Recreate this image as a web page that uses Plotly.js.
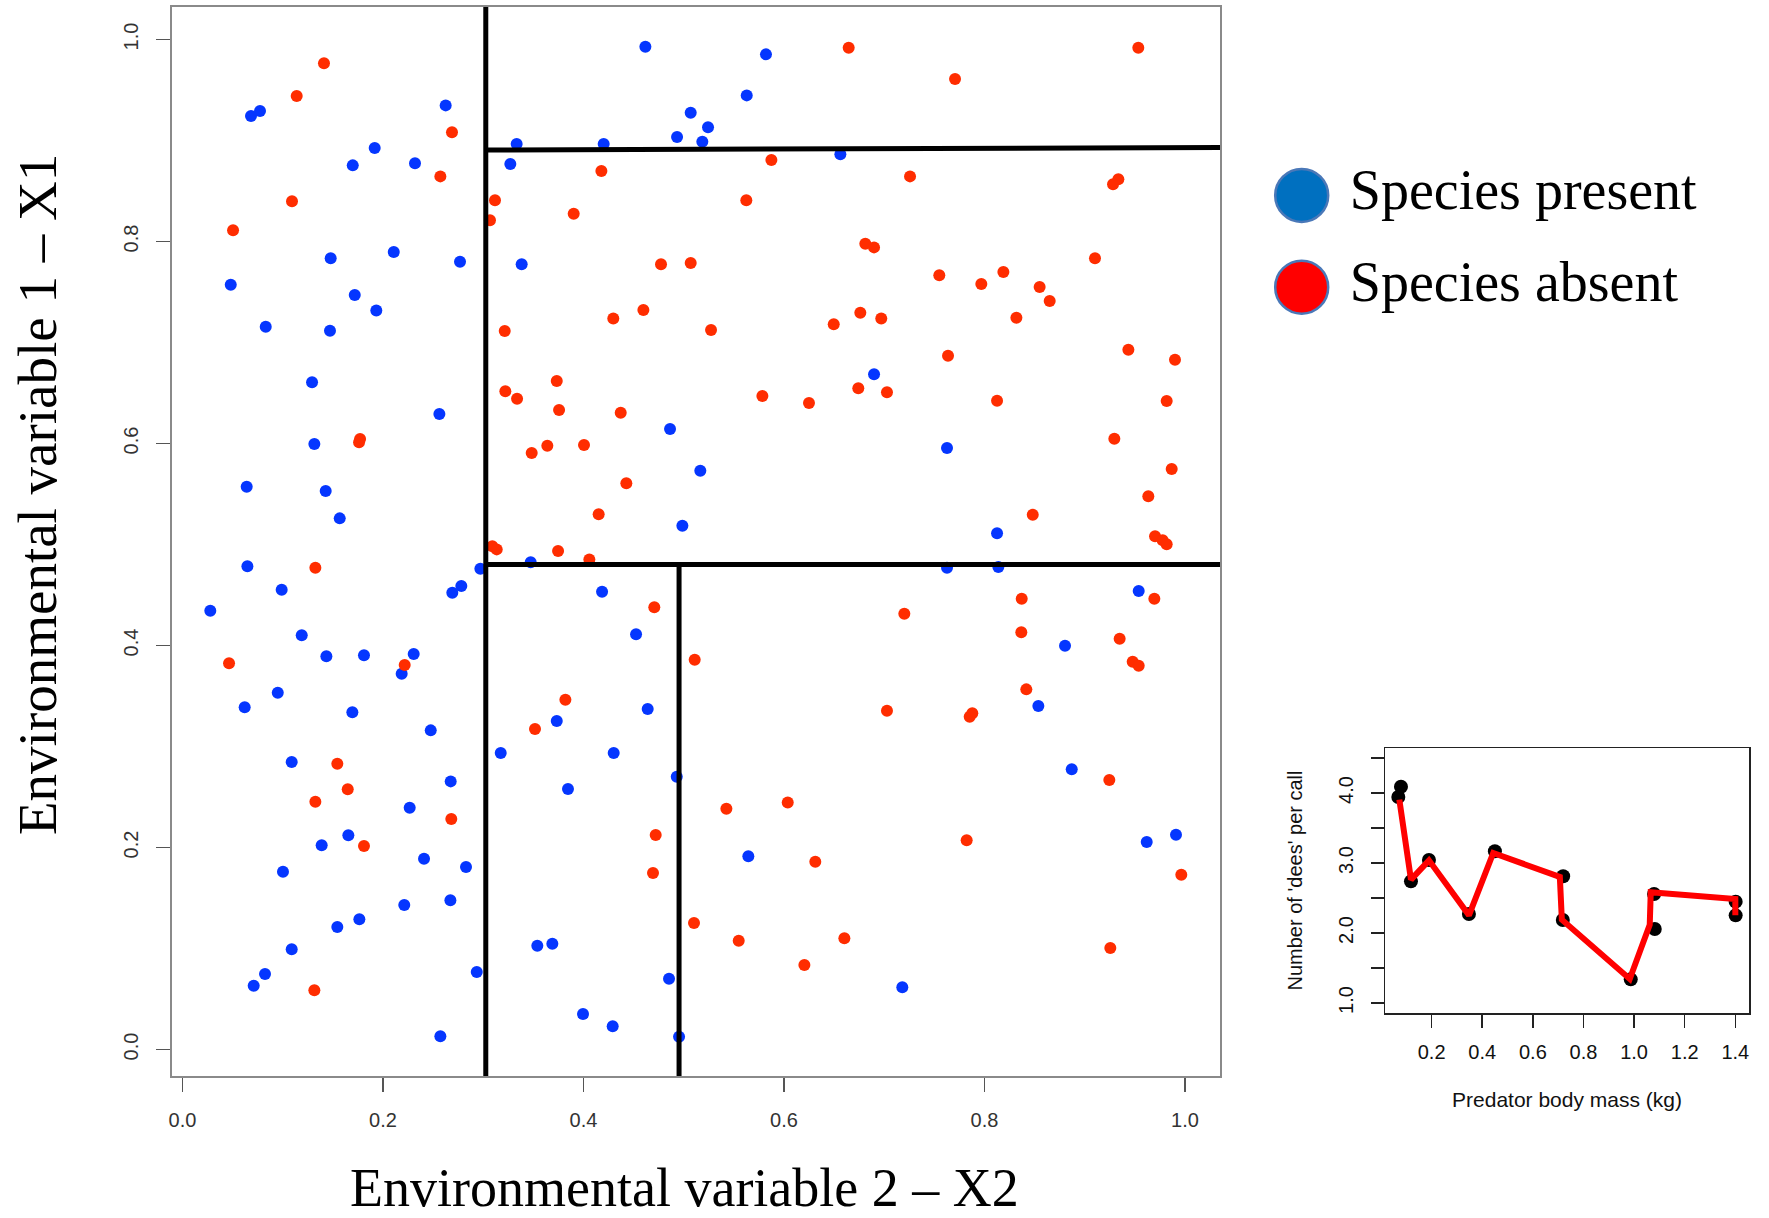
<!DOCTYPE html>
<html>
<head>
<meta charset="utf-8">
<script src="https://cdn.plot.ly/plotly-3.0.1.min.js"></script>
<style>html,body{margin:0;padding:0;background:#fff}#chart{width:1769px;height:1218px}</style>
</head>
<body>
<div id="chart"></div>
<script>
// ---------- Main scatter data (X2 = horizontal, X1 = vertical) ----------
const presentX = [0.0683,0.0773,0.2625,0.1917,0.1698,0.2319,0.3333,0.327,0.1478,0.2107,0.2768,0.3383,0.0481,0.1718,0.1933,0.083,0.1471,
  0.4617,0.582,0.5628,0.5069,0.5242,0.4933,0.5185,0.4201,0.6562,0.6898,
  0.1292,0.2562,0.1315,0.064,0.1428,0.1568,0.0647,0.0989,0.0277,0.2971,0.2781,0.2691,0.1189,0.1435,0.181,0.2306,0.2186,0.095,0.062,0.1694,
  0.4863,0.5165,0.4986,0.3473,0.4185,0.4524,0.464,0.3733,
  0.7626,0.8125,0.7626,0.8138,0.9538,0.8803,0.8537,
  0.2476,0.3174,0.1089,0.2675,0.2266,0.1654,0.1388,0.2409,0.2828,0.1002,0.2212,0.2672,0.1764,0.1544,0.1089,0.0823,0.071,0.2935,0.2572,
  0.4301,0.493,0.3845,0.5644,0.3539,0.3689,0.4853,0.3995,0.4291,0.4953,
  0.887,0.9618,0.991,0.718];
const presentY = [0.9243,0.9292,0.9348,0.8926,0.8754,0.8774,0.8965,0.8767,0.7834,0.7896,0.78,0.7774,0.7572,0.747,0.7318,0.7157,0.7117,
  0.9929,0.9853,0.9447,0.9275,0.9131,0.9035,0.8988,0.8965,0.8863,0.6685,
  0.6606,0.6292,0.5995,0.5572,0.553,0.5259,0.4784,0.4553,0.4345,0.476,0.4589,0.4523,0.4101,0.3893,0.3903,0.3916,0.3721,0.3533,0.3388,0.3339,
  0.6144,0.5731,0.5186,0.4824,0.4533,0.4111,0.3371,0.3252,
  0.5955,0.5111,0.477,0.4777,0.454,0.3998,0.3401,
  0.316,0.2936,0.2847,0.2655,0.2394,0.2121,0.2022,0.1889,0.1807,0.176,0.1431,0.1477,0.1289,0.1213,0.0992,0.0748,0.0632,0.0767,0.0131,
  0.2936,0.2701,0.2579,0.1913,0.1028,0.1048,0.0701,0.0351,0.023,0.0127,
  0.2774,0.2054,0.2127,0.0616];

const absentX = [0.1411,0.1139,0.2688,0.2572,0.3117,0.3067,0.1092,0.0504,0.3214,
  0.6645,0.5874,0.4178,0.5624,0.3902,0.6811,0.6898,0.4773,0.5069,0.4597,0.4297,0.5272,0.6496,0.6761,0.697,
  0.9534,0.7706,0.7257,0.9335,0.9282,0.9102,0.7549,0.8188,0.7968,0.855,0.865,0.8318,0.7636,0.9435,0.99,
  0.1771,0.1761,0.1325,0.322,0.3337,0.309,0.3134,0.0464,0.2216,
  0.3733,0.3756,0.4371,0.3483,0.3639,0.4005,0.4427,0.4151,0.5784,0.6249,0.6741,0.3746,0.4058,0.4706,0.5109,0.3819,0.3516,
  0.7027,0.8125,0.9817,0.9295,0.9867,0.9634,0.8481,0.9701,0.9777,0.9817,0.8371,0.9694,0.72,0.8367,0.9348,0.9478,0.9538,0.8417,0.7027,0.7852,0.7878,
  0.1544,0.1648,0.1325,0.2681,0.181,0.1315,
  0.5425,0.6037,0.472,0.6312,0.4693,0.5102,0.5548,0.6602,0.6203,
  0.9245,0.7822,0.9963,0.9255];
const absentY = [0.9764,0.9441,0.9081,0.8645,0.8408,0.821,0.8398,0.8111,0.7114,
  0.9919,0.8807,0.8698,0.8408,0.8275,0.7978,0.7942,0.7774,0.7787,0.7322,0.7239,0.7124,0.718,0.7295,0.7239,
  0.9919,0.9609,0.8645,0.8616,0.8566,0.7834,0.7665,0.7698,0.7579,0.755,0.7411,0.7246,0.6869,0.6929,0.683,
  0.6045,0.6012,0.477,0.6517,0.6444,0.4982,0.4952,0.3824,0.3807,
  0.6619,0.6332,0.6305,0.5906,0.5978,0.5985,0.5606,0.5299,0.647,0.6401,0.6547,0.4936,0.4853,0.4378,0.386,0.3463,0.3173,
  0.6507,0.6424,0.6421,0.6048,0.5748,0.5477,0.5295,0.5081,0.5042,0.5002,0.4463,0.4463,0.4315,0.4131,0.4067,0.384,0.38,0.3566,0.3354,0.3295,0.3329,
  0.283,0.2576,0.2453,0.2282,0.2015,0.0586,
  0.2384,0.2447,0.2124,0.1859,0.1748,0.1252,0.1077,0.1101,0.0837,
  0.2668,0.2071,0.1731,0.1005];

// Partition (tree split) lines, segments separated by null
const splitX = [0.3025,0.3025,null, 0.3025,1.04,null, 0.3025,1.04,null, 0.4953,0.4953];
const splitY = [-0.03,1.04,null, 0.8906,0.893,null, 0.4802,0.4802,null, 0.4802,-0.03];

const mainTicks = [0,0.2,0.4,0.6,0.8,1.0];
const mainTickText = mainTicks.map(v => v.toFixed(1));

// ---------- Inset data ----------
const insetMass  = [0.0684,0.0789,0.1184,0.1895,0.3474,0.45,0.7197,0.7184,0.9868,1.0816,1.0789,1.4013,1.4013];
const insetCalls = [3.943,4.09,2.738,3.043,2.271,3.167,2.81,2.186,1.338,2.057,2.557,2.448,2.252];
const insetLineX = [0.0724,0.1184,0.1895,0.3474,0.4434,0.7066,0.7145,0.9829,1.0618,1.0658,1.4,1.4];
const insetLineY = [3.905,2.762,3.038,2.252,3.143,2.8,2.19,1.343,2.119,2.581,2.486,2.252];
const insetXTicks = [0.2,0.4,0.6,0.8,1.0,1.2,1.4];
const insetXTickText = insetXTicks.map(v => v.toFixed(1));
const insetYTicks = [1.0,1.5,2.0,2.5,3.0,3.5,4.0,4.5];
const insetYTickText = insetYTicks.map(v => Number.isInteger(v) ? v.toFixed(1) : '');

// ---------- Legend ----------
const legendLabels = ['Species present','Species absent'];
const legendColors = ['#0070c0','#ff0000'];

// ---------- layout helpers (pixel -> paper) ----------
const W = 1769, H = 1218;
const fx = px => px / W;
const fy = py => 1 - py / H;

const sans = 'Liberation Sans, Arial, sans-serif';
const serif = 'Liberation Serif, Times New Roman, serif';

const traces = [
  {x: presentX, y: presentY, type: 'scatter', mode: 'markers', name: 'Species present',
   marker: {color: '#0536ff', size: 12}, xaxis: 'x', yaxis: 'y', showlegend: false, hoverinfo: 'x+y'},
  {x: absentX, y: absentY, type: 'scatter', mode: 'markers', name: 'Species absent',
   marker: {color: '#ff2d00', size: 12}, xaxis: 'x', yaxis: 'y', showlegend: false, hoverinfo: 'x+y'},
  {x: splitX, y: splitY, type: 'scatter', mode: 'lines', name: 'splits',
   line: {color: '#000', width: 5}, xaxis: 'x', yaxis: 'y', showlegend: false, hoverinfo: 'skip', connectgaps: false},
  {x: insetMass, y: insetCalls, type: 'scatter', mode: 'markers', name: 'calls',
   marker: {color: '#000', size: 14}, xaxis: 'x2', yaxis: 'y2', showlegend: false},
  {x: insetLineX, y: insetLineY, type: 'scatter', mode: 'lines', name: 'trend',
   line: {color: '#ff0000', width: 6}, xaxis: 'x2', yaxis: 'y2', showlegend: false, hoverinfo: 'skip'},
  {x: legendLabels.map(() => 0), y: legendLabels, type: 'scatter', mode: 'markers+text',
   text: legendLabels.map(s => '\u00a0' + s), textposition: 'middle right',
   textfont: {family: serif, size: 56, color: '#000'},
   marker: {color: legendColors, size: 53, line: {color: '#4a78b8', width: 2.5}},
   xaxis: 'x3', yaxis: 'y3', showlegend: false, hoverinfo: 'skip', cliponaxis: false}
];

const layout = {
  width: W, height: H,
  margin: {l: 0, r: 0, t: 0, b: 0},
  paper_bgcolor: '#fff', plot_bgcolor: '#fff',
  showlegend: false,
  xaxis: {domain: [fx(172), fx(1220)], range: [-0.0105, 1.0349], anchor: 'y',
    tickvals: mainTicks, ticktext: mainTickText, ticks: 'outside', ticklen: 14, tickwidth: 1.5, tickcolor: '#555',
    showline: true, mirror: true, linecolor: '#8a8a8a', linewidth: 2, showgrid: false, zeroline: false,
    tickfont: {family: sans, size: 20, color: '#333'}, ticklabelstandoff: 11},
  yaxis: {domain: [fy(1076), fy(7)], range: [-0.0262, 1.0322], anchor: 'x',
    tickvals: mainTicks, ticktext: mainTickText, ticks: 'outside', ticklen: 14, tickwidth: 1.5, tickcolor: '#555',
    tickangle: -90, showline: true, mirror: true, linecolor: '#8a8a8a', linewidth: 2, showgrid: false, zeroline: false,
    tickfont: {family: sans, size: 20, color: '#333'}, ticklabelstandoff: 10},
  xaxis2: {domain: [fx(1385), fx(1749)], range: [0.0158, 1.454], anchor: 'y2',
    tickvals: insetXTicks, ticktext: insetXTickText, ticks: 'outside', ticklen: 13, tickwidth: 1.5, tickcolor: '#222',
    showline: true, mirror: true, linecolor: '#222', linewidth: 1.5, showgrid: false, zeroline: false,
    tickfont: {family: sans, size: 20, color: '#111'}, ticklabelstandoff: 7,
    title: {text: 'Predator body mass (kg)', font: {family: sans, size: 21, color: '#111'}, standoff: 31}},
  yaxis2: {domain: [fy(1013), fy(748)], range: [0.857, 4.643], anchor: 'x2',
    tickvals: insetYTicks, ticktext: insetYTickText, ticks: 'outside', ticklen: 13, tickwidth: 1.5, tickcolor: '#222',
    tickangle: -90, showline: true, mirror: true, linecolor: '#222', linewidth: 1.5, showgrid: false, zeroline: false,
    tickfont: {family: sans, size: 20, color: '#111'}, ticklabelstandoff: 10,
    title: {text: "Number of 'dees' per call", font: {family: sans, size: 20, color: '#111'}, standoff: 26}},
  xaxis3: {domain: [fx(1270), 1], range: [-0.317, 4.673], anchor: 'y3', visible: false, fixedrange: true},
  yaxis3: {domain: [fy(333), fy(149.5)], range: [1.5, -0.5], type: 'category', anchor: 'x3', visible: false, fixedrange: true},
  annotations: [
    {text: 'Environmental variable 2 \u2013 X2', xref: 'paper', yref: 'paper', x: fx(684), y: fy(1188),
     xanchor: 'center', yanchor: 'middle', showarrow: false, font: {family: serif, size: 54, color: '#000'}},
    {text: 'Environmental variable 1 \u2013 X1', xref: 'paper', yref: 'paper', x: fx(37), y: fy(495),
     xanchor: 'center', yanchor: 'middle', textangle: -90, showarrow: false, font: {family: serif, size: 55, color: '#000'}}
  ]
};

Plotly.newPlot('chart', traces, layout, {displayModeBar: false, staticPlot: true});
</script>
</body>
</html>
